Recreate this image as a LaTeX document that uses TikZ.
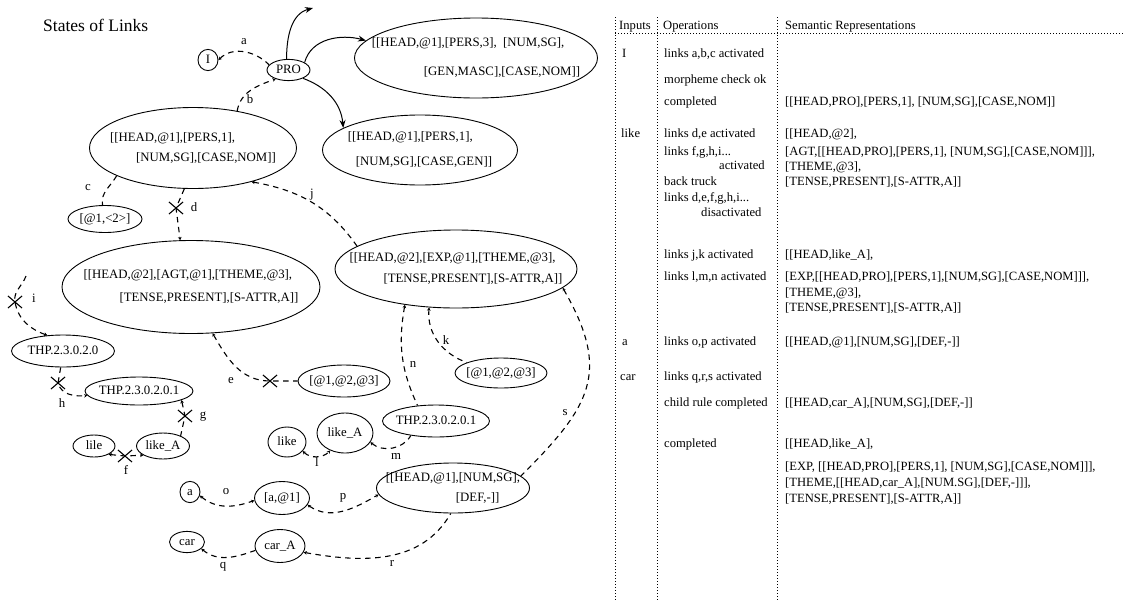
\documentclass[tikz,border=0pt]{standalone}
\usepackage{fontspec}
\setmainfont{Liberation Serif}
\usetikzlibrary{shapes.geometric,shapes.misc,arrows.meta}
\newcommand{\zt}[1]{\makebox[0pt]{\begin{tabular}{@{}l@{}}#1\end{tabular}}}
\tikzset{
  >={Stealth[length=3.2pt,width=3.6pt]},
  ell/.style={draw, ellipse, inner sep=0pt, line width=0.9pt, font=\fontsize{12.8}{15}\selectfont},
  lnk/.style={line width=1.1pt, dash pattern=on 5.5pt off 4.5pt},
  sarr/.style={line width=1pt, -{Stealth[length=8pt,width=6pt]}},
  xmark/.style={draw, cross out, minimum width=13pt, minimum height=11pt, inner sep=0pt, line width=1.1pt},
  lab/.style={inner sep=0pt, font=\fontsize{12.8}{15}\selectfont},
  tab/.style={anchor=base west, inner sep=0pt, font=\fontsize{12.6}{15}\selectfont},
  dots/.style={line width=0.9pt, dash pattern=on 1pt off 2pt}
}
\begin{document}
\begin{tikzpicture}[x=1pt,y=1pt]
\useasboundingbox (0,0) rectangle (1124,-600);

\node[anchor=base west, inner sep=0pt, font=\fontsize{17.5}{20}\selectfont] (title) at (43,-31) {States of Links};

% ---------- nodes ----------
\node[ell, minimum width=20pt, minimum height=18pt] (I) at (208,-60) {\zt{I}};
\node[ell, minimum width=43pt, minimum height=20pt] (PRO) at (288.5,-70) {\zt{PRO}};
\node[ell, minimum width=243pt, minimum height=80pt] (A) at (476,-58) {\zt{[[HEAD,@1],[PERS,3],\ \ [NUM,SG],\\[14pt]\hspace*{52pt}[GEN,MASC],[CASE,NOM]]}};
\node[ell, minimum width=195pt, minimum height=70pt] (B) at (420,-150) {\zt{[[HEAD,@1],[PERS,1],\\[10pt]\hspace*{8pt}[NUM,SG],[CASE,GEN]]}};
\node[ell, minimum width=207pt, minimum height=81pt] (C) at (193,-148) {\zt{[[HEAD,@1],[PERS,1],\\[5pt]\hspace*{26pt}[NUM,SG],[CASE,NOM]]}};
\node[ell, minimum width=74pt, minimum height=27pt] (c2) at (105,-219) {\zt{[@1,<2>]}};
\node[ell, minimum width=258pt, minimum height=93pt] (D) at (191,-287) {\zt{[[HEAD,@2],[AGT,@1],[THEME,@3],\\[8pt]\hspace*{36pt}[TENSE,PRESENT],[S-ATTR,A]]}};
\node[ell, minimum width=242pt, minimum height=78pt] (E) at (456,-269) {\zt{[[HEAD,@2],[EXP,@1],[THEME,@3],\\[6pt]\hspace*{34pt}[TENSE,PRESENT],[S-ATTR,A]]}};
\node[ell, minimum width=92pt, minimum height=32pt] (e3) at (344,-381) {\zt{[@1,@2,@3]}};
\node[ell, minimum width=92pt, minimum height=30pt] (k3) at (501,-373) {\zt{[@1,@2,@3]}};
\node[ell, minimum width=103pt, minimum height=32pt] (T0) at (63,-351) {\zt{THP.2.3.0.2.0}};
\node[ell, minimum width=108pt, minimum height=28pt] (T1) at (139,-391) {\zt{THP.2.3.0.2.0.1}};
\node[ell, minimum width=42pt, minimum height=22pt] (lile) at (94,-446) {\zt{lile}};
\node[ell, minimum width=53pt, minimum height=26pt] (likeA1) at (163,-446) {\zt{like\_A}};
\node[ell, minimum width=38pt, minimum height=30pt] (like) at (287,-442) {\zt{like}};
\node[ell, minimum width=56pt, minimum height=40pt] (likeA2) at (345,-433) {\zt{like\_A}};
\node[ell, minimum width=107pt, minimum height=32pt] (T2) at (436,-421) {\zt{THP.2.3.0.2.0.1}};
\node[ell, minimum width=20pt, minimum height=20pt] (acirc) at (190,-492) {\zt{a}};
\node[ell, minimum width=55pt, minimum height=33pt] (a1) at (282,-498) {\zt{[a,@1]}};
\node[ell, minimum width=153pt, minimum height=50pt] (F) at (453,-488) {\zt{[[HEAD,@1],[NUM,SG],\\[5pt]\hspace*{70pt}[DEF,-]]}};
\node[ell, minimum width=35pt, minimum height=20pt] (car) at (187,-542) {\zt{car}};
\node[ell, minimum width=50pt, minimum height=33pt] (carA) at (280,-546) {\zt{car\_A}};

% ---------- crosses ----------
\node[xmark] (xd) at (176,-208) {};
\node[xmark] (xi) at (15,-302) {};
\node[xmark] (xh) at (58,-383) {};
\node[xmark] (xg) at (185,-416) {};
\node[xmark] (xf) at (125,-456) {};
\node[xmark] (xe) at (270,-381) {};

% ---------- link labels ----------
\node[lab] (la) at (244,-42) {a};
\node[lab] (lb) at (250,-99) {b};
\node[lab] (lc) at (88,-188) {c};
\node[lab] (ld) at (194,-207) {d};
\node[lab] (le) at (231,-381) {e};
\node[lab] (lf) at (126,-470) {f};
\node[lab] (lg) at (203,-417) {g};
\node[lab] (lh) at (62,-403) {h};
\node[lab] (li) at (34,-298) {i};
\node[lab] (lj) at (312,-195) {j};
\node[lab] (lk) at (446,-340) {k};
\node[lab] (ll) at (317,-462) {l};
\node[lab] (lm) at (396,-456) {m};
\node[lab] (ln) at (413,-364) {n};
\node[lab] (lo) at (226,-492) {o};
\node[lab] (lp) at (343,-498) {p};
\node[lab] (lq) at (223,-567) {q};
\node[lab] (lr) at (392,-563) {r};
\node[lab] (ls) at (565,-413) {s};

% ---------- connectors ----------
\coordinate (up) at (313,-8);
\coordinate (istart) at (26,-276);
\draw[sarr] (PRO.100) to[out=90,in=195] (up);
\draw[sarr] (PRO.25) to[out=75,in=165] (A.171);
\draw[sarr] (PRO.-30) to[out=-20,in=95] (B.164);

\draw[lnk,<-] (I.east) to[out=45,in=135] (PRO.165);
\draw[lnk,->] (C.40) to[out=80,in=200] (PRO.215);
\draw[lnk] (C.200) to[out=240,in=100] (c2.100);
\draw[lnk,->] (C.258) -- (xd.center) -- (D.103);
\draw[lnk,<-] (C.330) to[out=-10,in=125] (E.167);
\draw[lnk,<-] (D.-65) to[out=-60,in=180] (xe.center) -- (e3.west);
\draw[lnk,->] (istart) to[out=250,in=100] (xi.center) to[out=-80,in=160] (T0.135);
\draw[lnk,->] (T0.262) -- (xh.center) to[out=-75,in=185] (T1.185);
\draw[lnk,<-] (T1.-12) -- (xg.center) -- (likeA1.30);
\draw[lnk,<->] (lile.-30) -- (xf.center) -- (likeA1.205);
\draw[lnk,<-] (E.-125) to[out=-95,in=160] (k3.163);
\draw[lnk,<-] (E.-145) to[out=-100,in=115] (T2.140);
\draw[lnk,<-] (E.-10) to[out=-60,in=45,looseness=1.3] (F.10);
\draw[lnk,<->] (like.-30) to[out=-45,in=-135] (likeA2.-130);
\draw[lnk,<-] (likeA2.-20) to[out=-40,in=-120] (T2.-150);
\draw[lnk,<->] (acirc.-20) to[out=-40,in=-160] (a1.185);
\draw[lnk,<->] (a1.-15) to[out=-35,in=-150] (F.185);
\draw[lnk,<-] (car.-25) to[out=-40,in=-160] (carA.190);
\draw[lnk,<-] (carA.-15) to[out=-10,in=240] (F.265);

% ---------- table ----------
\coordinate (v1t) at (615,-17); \coordinate (v1b) at (615,-600);
\coordinate (v2t) at (657,-17); \coordinate (v2b) at (657,-600);
\coordinate (v3t) at (777,-17); \coordinate (v3b) at (777,-600);
\coordinate (hl) at (615,-33); \coordinate (hr) at (1124,-33);
\draw[dots] (v1t) -- (v1b);
\draw[dots] (v2t) -- (v2b);
\draw[dots] (v3t) -- (v3b);
\draw[dots] (hl) -- (hr);

\node[tab] (h1) at (619,-29.5) {Inputs};
\node[tab] (h2) at (663,-29.5) {Operations};
\node[tab] (h3) at (785,-29.5) {Semantic Representations};

\node[tab] (in1) at (622,-57.5) {I};
\node[tab] (op1) at (664,-57.5) {links a,b,c activated};
\node[tab] (op2) at (664,-83.5) {morpheme check ok};
\node[tab] (op3) at (664,-105.5) {completed};
\node[tab] (sr1) at (785,-105.5) {[[HEAD,PRO],[PERS,1], [NUM,SG],[CASE,NOM]]};

\node[tab] (in2) at (621,-137.5) {like};
\node[tab] (op4) at (664,-137.5) {links d,e activated};
\node[tab] (op5) at (664,-155.5) {links f,g,h,i...};
\node[tab] (op6) at (719,-169.5) {activated};
\node[tab] (op7) at (664,-185.5) {back truck};
\node[tab] (sr2) at (785,-137.5) {[[HEAD,@2],};
\node[tab] (sr3) at (785,-155.5) {[AGT,[[HEAD,PRO],[PERS,1], [NUM,SG],[CASE,NOM]]],};
\node[tab] (sr4) at (785,-170.5) {[THEME,@3],};
\node[tab] (sr5) at (785,-185.5) {[TENSE,PRESENT],[S-ATTR,A]]};
\node[tab] (op8) at (664,-201.5) {links d,e,f,g,h,i...};
\node[tab] (op9) at (701,-216.5) {disactivated};

\node[tab] (op10) at (664,-258.5) {links j,k activated};
\node[tab] (op11) at (664,-280.5) {links l,m,n activated};
\node[tab] (sr6) at (785,-258.5) {[[HEAD,like\_A],};
\node[tab] (sr7) at (785,-280.5) {[EXP,[[HEAD,PRO],[PERS,1],[NUM,SG],[CASE,NOM]]],};
\node[tab] (sr8) at (785,-296.5) {[THEME,@3],};
\node[tab] (sr9) at (785,-311.5) {[TENSE,PRESENT],[S-ATTR,A]]};

\node[tab] (in3) at (622,-345.5) {a};
\node[tab] (op12) at (664,-345.5) {links o,p activated};
\node[tab] (sr10) at (785,-345.5) {[[HEAD,@1],[NUM,SG],[DEF,-]]};

\node[tab] (in4) at (620,-380.5) {car};
\node[tab] (op13) at (664,-380.5) {links q,r,s activated};
\node[tab] (op14) at (664,-406.5) {child rule completed};
\node[tab] (sr11) at (785,-406.5) {[[HEAD,car\_A],[NUM,SG],[DEF,-]]};

\node[tab] (op15) at (664,-447.5) {completed};
\node[tab] (sr12) at (785,-447.5) {[[HEAD,like\_A],};
\node[tab] (sr13) at (785,-470.5) {[EXP, [[HEAD,PRO],[PERS,1], [NUM,SG],[CASE,NOM]]],};
\node[tab] (sr14) at (785,-486.5) {[THEME,[[HEAD,car\_A],[NUM.SG],[DEF,-]]],};
\node[tab] (sr15) at (785,-502.5) {[TENSE,PRESENT],[S-ATTR,A]]};
\end{tikzpicture}
\end{document}
